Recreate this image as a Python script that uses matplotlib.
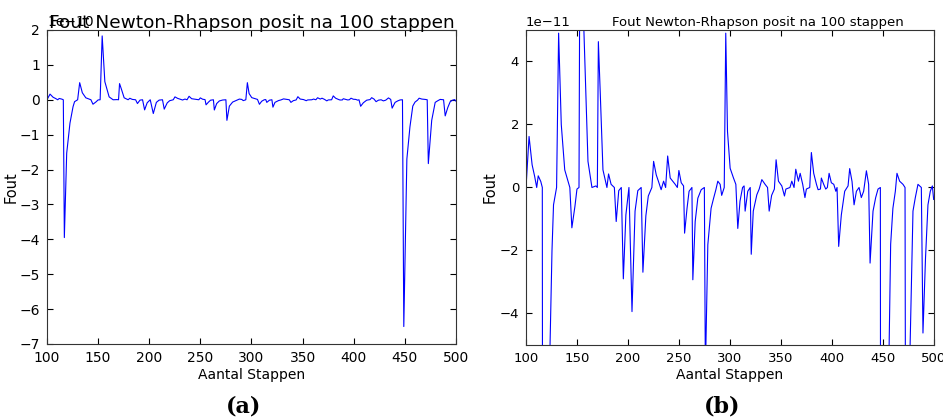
import matplotlib
matplotlib.use("Agg")
import matplotlib.pyplot as plt
import numpy as np

# stappen en fout (in eenheden van 1e-11)
stappen = [100, 103, 106, 108.5, 110.5, 112, 114.5, 116, 117, 119.3,
           122.5, 125.5, 127, 130, 132, 134.6, 138, 143, 145, 148,
           150, 152, 154, 156.6, 160.8, 164.7, 168.6, 170, 171, 172.8,
           175.5, 179.4, 181, 183.5, 186.7, 188.5, 191, 193.5, 195.5, 198,
           201, 204, 207, 209.7, 213, 214.7, 217.6, 220, 223.5, 225.2,
           227.8, 230, 232.6, 235, 237, 239, 241.5, 246.4, 248.5, 250,
           252.3, 254.6, 255.6, 258, 260, 262.8, 263.7, 266, 268.6, 271.9,
           275, 276, 278.4, 281.6, 284, 286.3, 288.2, 290.5, 292, 294.5,
           296, 297.7, 300.3, 303.6, 305.9, 307.8, 310, 312.5, 314, 315,
           317.6, 320, 321, 323, 326.5, 328.8, 331.4, 334.6, 337, 338.6,
           341, 343.7, 345.4, 347.7, 351, 353.6, 355, 359, 360.8, 363,
           364.7, 367.3, 369, 371.5, 373.7, 375.1, 378.4, 380, 382.3, 385,
           386.6, 388.9, 389.8, 392.1, 394.1, 395.7, 397.4, 399.6, 402, 404,
           405.2, 406.8, 409.4, 412.7, 416, 417.6, 419.9, 421.9, 424.2, 426.8,
           429, 431.3, 434, 436.2, 437.6, 440.5, 443.1, 445.4, 447.7, 449,
           452, 455, 457.8, 460, 462.4, 464, 466.6, 469.9, 471.9, 473,
           476.3, 479.7, 482, 484.6, 486.2, 487.9, 489.5, 492, 494.4, 496.7,
           498.7, 500]
fout = [0, 1.62, 0.72, 0.35, 0, 0.37, 0.19, 0, -39.5, -15.3,
        -6.7, -2.0, -0.55, 0, 4.9, 2.0, 0.56, 0, -1.28, -0.6,
        -0.05, 0, 18.3, 5.2, 0.83, 0, 0.05, 0, 4.63, 3.05,
        0.56, 0, 0.43, 0.1, 0, -1.08, -0.1, 0, -2.9, -0.87,
        0, -3.94, -0.75, -0.1, 0, -2.69, -0.9, -0.27, 0, 0.83,
        0.4, 0.19, -0.07, 0.2, 0, 1.0, 0.3, 0.1, 0, 0.54,
        0.15, 0.05, -1.45, -0.66, -0.12, 0, -2.93, -1.08, -0.34, -0.07,
        0, -5.9, -1.82, -0.66, -0.35, -0.07, 0.2, 0.1, -0.25, 0,
        4.9, 1.78, 0.61, 0.3, 0.1, -1.3, -0.43, 0, 0.05, -0.75,
        -0.12, 0, -2.12, -0.75, -0.23, -0.05, 0.25, 0.1, 0, -0.75,
        -0.25, -0.05, 0.88, 0.2, 0.05, -0.27, -0.05, 0, 0.2, 0,
        0.58, 0.2, 0.45, 0.1, -0.32, -0.05, 0, 1.11, 0.45, 0.1,
        -0.07, -0.05, 0.3, 0.1, -0.05, 0, 0.45, 0.15, 0.1, -0.12,
        0, -1.87, -0.87, -0.12, 0.05, 0.6, 0.19, -0.55, -0.12, 0,
        -0.32, -0.12, 0.53, 0.1, -2.4, -0.75, -0.32, -0.05, 0, -65,
        -17, -7.8, -1.8, -0.66, -0.12, 0.45, 0.2, 0.1, 0, -18.3,
        -5.9, -0.75, -0.32, 0.1, 0.05, 0, -4.62, -2.24, -0.55, -0.12,
        0.05, -0.38]

x = np.array(stappen)
y = np.array(fout) * 1e-11

titel = "Fout Newton-Rhapson posit na 100 stappen"

fig = plt.figure(figsize=(9.43, 4.2), dpi=100, facecolor='white')
ax1 = fig.add_axes([0.0498, 0.181, 0.4337, 0.7476])
ax2 = fig.add_axes([0.5578, 0.1786, 0.4323, 0.75])

for ax, ylim, lfs in [(ax1, (-7e-10, 2e-10), 10), (ax2, (-5e-11, 5e-11), 9.5)]:
    ax.plot(x, y, color='b', linewidth=0.8)
    ax.set_xlim(100, 500)
    ax.set_ylim(*ylim)
    ax.set_xlabel("Aantal Stappen", fontsize=10, labelpad=2)
    ax.tick_params(direction='in', top=True, right=True, labelsize=lfs, length=4, pad=5)
    ax.yaxis.get_offset_text().set_fontsize(lfs)
    for s in ax.spines.values():
        s.set_color('#333333')

# vaste y zodat de titel over de 1e-10 tekst valt, zoals in het origineel
ax1.set_title(titel, fontsize=13.3, pad=1.5, y=1.0)
ax2.set_title(titel, fontsize=9.5, pad=3, x=0.569, y=1.0)
ax1.set_ylabel("Fout", fontsize=10.5, labelpad=1)
ax2.set_ylabel("Fout", fontsize=10.5, labelpad=1)

ax1.set_yticks(np.arange(-7, 3) * 1e-10)
ax2.set_yticks(np.arange(-4, 5, 2) * 1e-11)

fig.text(0.258, 0.031, "(a)", fontsize=16, fontweight='bold', family='DejaVu Serif', ha='center', va='center')
fig.text(0.766, 0.031, "(b)", fontsize=16, fontweight='bold', family='DejaVu Serif', ha='center', va='center')

fig.savefig("out.png", dpi=100, facecolor='white')
